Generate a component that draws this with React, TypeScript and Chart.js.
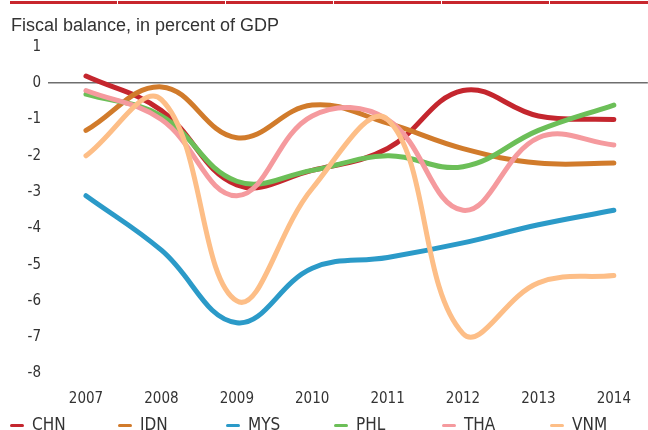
import React, { useEffect, useRef } from "react";
import { Chart, registerables } from "chart.js";

Chart.register(...registerables);

const years = [2007, 2008, 2009, 2010, 2011, 2012, 2013, 2014];
const yTicks = [1, 0, -1, -2, -3, -4, -5, -6, -7, -8];

const CHN = [0.2, -0.75, -2.8, -2.4, -1.8, -0.2, -0.9, -1.0];
const IDN = [-1.3, -0.1, -1.5, -0.6, -1.1, -1.8, -2.2, -2.2];
const MYS = [-3.1, -4.6, -6.6, -5.1, -4.8, -4.4, -3.9, -3.5];
const PHL = [-0.3, -0.9, -2.7, -2.4, -2.0, -2.3, -1.3, -0.6];
const THA = [-0.2, -1.0, -3.1, -0.9, -1.0, -3.5, -1.5, -1.7];
const VNM = [-2.0, -0.45, -6.0, -2.9, -1.0, -6.9, -5.5, -5.3];

const seriesNames = ["CHN", "IDN", "MYS", "PHL", "THA", "VNM"];
const seriesValues = [CHN, IDN, MYS, PHL, THA, VNM];
const seriesColors = ["#c4262e", "#d17b2b", "#2b9ac8", "#6cbf58", "#f59a9e", "#fdbe87"];

const TICK_FONT = "'Liberation Sans Narrow', 'DejaVu Sans Condensed', Arial, sans-serif";

export default function App() {
  const canvasRef = useRef<HTMLCanvasElement | null>(null);

  useEffect(() => {
    const canvas = canvasRef.current;
    if (!canvas) return;
    const pxPerYear = (614 - 86) / 7;
    const xMin = years[0] - (86 - 48) / pxPerYear;
    const xMax = xMin + 600 / pxPerYear;

    const chart = new Chart(canvas, {
      type: "line",
      data: {
        datasets: seriesNames.map((name, i) => ({
          label: name,
          data: years.map((y, j) => ({ x: y, y: seriesValues[i][j] })),
          borderColor: seriesColors[i],
          backgroundColor: seriesColors[i],
          borderWidth: 5,
          pointRadius: 0,
          tension: 0.4,
          borderCapStyle: "round" as const,
          borderJoinStyle: "round" as const,
          fill: false,
          order: seriesNames.length - i,
        })),
      },
      options: {
        animation: false,
        responsive: false,
        maintainAspectRatio: false,
        layout: { padding: { top: 47, left: 0, right: 0, bottom: 0 } },
        plugins: {
          legend: { display: false },
          title: { display: false },
          tooltip: { enabled: false },
        },
        scales: {
          x: {
            type: "linear",
            min: xMin,
            max: xMax,
            afterFit: (scale: any) => {
              scale.height = 56.5;
            },
            afterBuildTicks: (axis: any) => {
              axis.ticks = years.map((v) => ({ value: v }));
            },
            grid: { display: false, drawTicks: false },
            border: { display: false },
            ticks: {
              padding: 17,
              color: "#333",
              font: { family: TICK_FONT, size: 15 },
              callback: (v: any) => String(v),
              maxRotation: 0,
              autoSkip: false,
            },
          },
          y: {
            min: -8,
            max: 1,
            afterFit: (scale: any) => {
              scale.width = 48;
            },
            afterBuildTicks: (axis: any) => {
              axis.ticks = yTicks.map((v) => ({ value: v }));
            },
            grid: {
              drawTicks: false,
              color: (ctx: any) => (ctx.tick && ctx.tick.value === 0 ? "#6e6e6e" : "rgba(0,0,0,0)"),
              lineWidth: (ctx: any) => (ctx.tick && ctx.tick.value === 0 ? 1.6 : 0),
            },
            border: { display: false },
            ticks: {
              padding: 7,
              color: "#333",
              font: { family: TICK_FONT, size: 15 },
              callback: (v: any) => String(v),
            },
          },
        },
      },
    });
    return () => chart.destroy();
  }, []);

  return (
    <div
      style={{
        position: "fixed",
        left: 0,
        top: 0,
        width: 648,
        height: 430,
        overflow: "hidden",
        background: "#fff",
      }}
    >
      {seriesNames.map((_, i) => (
        <div
          key={"bar" + i}
          style={{
            position: "absolute",
            left: 10 + i * 108,
            top: 1,
            width: 107,
            height: 3,
            background: "#c8262d",
          }}
        />
      ))}
      <canvas
        ref={canvasRef}
        width={648}
        height={430}
        style={{ position: "absolute", left: 0, top: 0, width: 648, height: 430 }}
      />
      <div
        style={{
          position: "absolute",
          left: 11,
          top: 16,
          fontFamily: "'Liberation Sans', Arial, sans-serif",
          fontSize: 18,
          lineHeight: "18px",
          color: "#333",
          whiteSpace: "nowrap",
        }}
      >
        Fiscal balance, in percent of GDP
      </div>
      {seriesNames.map((name, i) => (
        <div
          key={name}
          style={{ position: "absolute", left: 10 + i * 108, top: 416, height: 20, width: 107 }}
        >
          <div
            style={{
              position: "absolute",
              left: 0,
              top: 8,
              width: 14,
              height: 3,
              borderRadius: 1.5,
              background: seriesColors[i],
            }}
          />
          <div
            style={{
              position: "absolute",
              left: 22,
              top: 0,
              fontFamily: TICK_FONT,
              fontSize: 17,
              lineHeight: "17px",
              color: "#333",
              whiteSpace: "nowrap",
            }}
          >
            {name}
          </div>
        </div>
      ))}
    </div>
  );
}
